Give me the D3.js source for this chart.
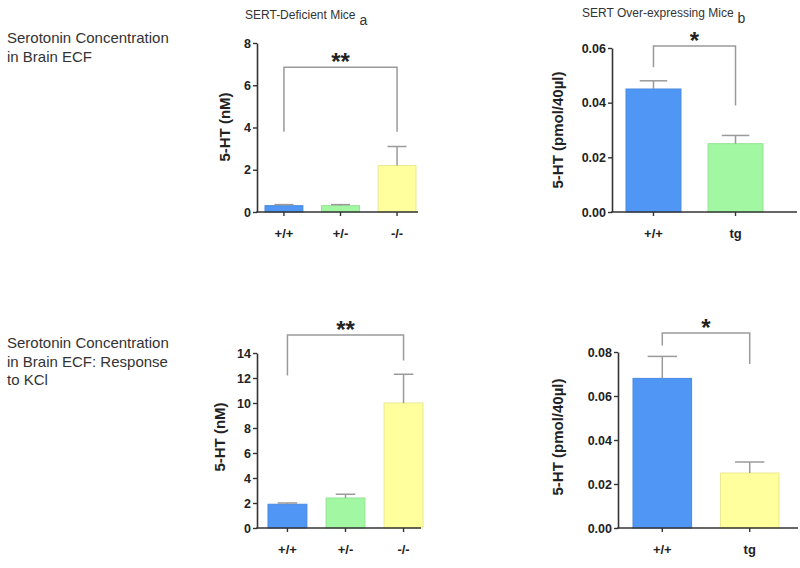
<!DOCTYPE html>
<html>
<head>
<meta charset="utf-8">
<script src="https://cdn.jsdelivr.net/npm/d3@7"></script>
<style>
  html, body { margin: 0; padding: 0; background: #fff; }
  svg { display: block; font-family: "Liberation Sans", Arial, sans-serif; }
</style>
</head>
<body>
<svg id="chart" width="800" height="568"></svg>
<script>
// ---------- DATA ----------
const categoriesA = ["+/+", "+/-", "-/-"];
const meansA = [0.3, 0.3, 2.2];
const semA = [0.05, 0.05, 0.9];
const ticksA = [0, 2, 4, 6, 8];

const categoriesB = ["+/+", "tg"];
const meansB = [0.045, 0.025];
const semB = [0.003, 0.003];
const ticksB = [0, 0.02, 0.04, 0.06];

const categoriesC = ["+/+", "+/-", "-/-"];
const meansC = [1.9, 2.4, 10.0];
const semC = [0.1, 0.3, 2.3];
const ticksC = [0, 2, 4, 6, 8, 10, 12, 14];

const categoriesD = ["+/+", "tg"];
const meansD = [0.068, 0.025];
const semD = [0.010, 0.005];
const ticksD = [0, 0.02, 0.04, 0.06, 0.08];

// significance brackets: [fromCategory, toCategory, top level, left leg end, right leg end, label]
const bracketA = ["+/+", "-/-", 6.85, 3.8, 3.8, "**"];
const bracketB = ["+/+", "tg", 0.0607, 0.053, 0.039, "*"];
const bracketC = ["+/+", "-/-", 15.45, 12.2, 13.4, "**"];
const bracketD = ["+/+", "tg", 0.0886, 0.083, 0.0745, "*"];

const colorsA = ["#4f96f5", "#a2f8a2", "#ffff9e"];
const colorsB = ["#4f96f5", "#a2f8a2"];
const colorsC = ["#4f96f5", "#a2f8a2", "#ffff9e"];
const colorsD = ["#4f96f5", "#ffff9e"];

const yLabelNM = "5-HT (nM)";
const yLabelPmol = "5-HT (pmol/40µl)";

// ---------- DRAW ----------
const svg = d3.select("#chart");
const axisColor = "#333";
const grey = "#9a9a9a";

function panel(cfg) {
  const g = svg.append("g");
  const x = d3.scaleBand().domain(cfg.cats).range(cfg.barRange).paddingInner(0.33).paddingOuter(0);
  const y = d3.scaleLinear().domain([0, cfg.ticks[cfg.ticks.length - 1]]).range(cfg.yRange);
  const y0 = y(0);

  // bars
  g.selectAll("rect.bar").data(cfg.cats).join("rect")
    .attr("x", d => x(d)).attr("width", x.bandwidth())
    .attr("y", (d, i) => y(cfg.means[i]))
    .attr("height", (d, i) => y0 - y(cfg.means[i]))
    .attr("fill", (d, i) => cfg.colors[i])
    .attr("stroke", (d, i) => d3.color(cfg.colors[i]).darker(0.25))
    .attr("stroke-width", 1);

  // error bars (upper only)
  const cap = x.bandwidth() * 0.5;
  cfg.cats.forEach((c, i) => {
    const cx = x(c) + x.bandwidth() / 2;
    const top = y(cfg.means[i] + cfg.sem[i]);
    g.append("line").attr("x1", cx).attr("x2", cx).attr("y1", y(cfg.means[i])).attr("y2", top)
      .attr("stroke", grey).attr("stroke-width", 1.5);
    g.append("line").attr("x1", cx - cap / 2).attr("x2", cx + cap / 2).attr("y1", top).attr("y2", top)
      .attr("stroke", grey).attr("stroke-width", 1.5);
  });

  // y axis
  const yAxis = d3.axisLeft(y).tickValues(cfg.ticks).tickSize(4).tickSizeOuter(0).tickPadding(2)
    .tickFormat(cfg.fmt);
  const ya = g.append("g").attr("transform", `translate(${cfg.axisX},0)`).call(yAxis);
  ya.select(".domain").attr("stroke", axisColor).attr("stroke-width", 1.6);
  ya.selectAll(".tick line").attr("stroke", axisColor).attr("stroke-width", 1.4);
  ya.selectAll(".tick text").attr("fill", "#222").attr("font-size", 12.5).attr("font-weight", "bold")
    .attr("font-family", "Liberation Sans, Arial, sans-serif");

  // x axis
  const xAxis = d3.axisBottom(x).tickSize(4).tickSizeOuter(0).tickPadding(13);
  const xa = g.append("g").attr("transform", `translate(0,${y0})`).call(xAxis);
  xa.select(".domain").remove();
  xa.selectAll(".tick line").attr("stroke", axisColor).attr("stroke-width", 1.4);
  xa.selectAll(".tick text").attr("fill", "#222").attr("font-size", 13).attr("font-weight", "bold")
    .attr("font-family", "Liberation Sans, Arial, sans-serif");
  g.append("line").attr("x1", cfg.axisX - 0.8).attr("x2", cfg.axisEnd).attr("y1", y0).attr("y2", y0)
    .attr("stroke", axisColor).attr("stroke-width", 1.6);

  // y label
  g.append("text").attr("transform", `translate(${cfg.yLabelX},${cfg.yLabelY}) rotate(-90)`)
    .attr("text-anchor", "middle").attr("dy", "0.35em")
    .attr("font-size", 15).attr("font-weight", "bold").attr("fill", "#222")
    .text(cfg.yLabel);

  // bracket
  const b = cfg.bracket;
  const bx1 = x(b[0]) + x.bandwidth() / 2;
  const bx2 = x(b[1]) + x.bandwidth() / 2;
  const path = d3.path();
  path.moveTo(bx1, y(b[3])); path.lineTo(bx1, y(b[2])); path.lineTo(bx2, y(b[2])); path.lineTo(bx2, y(b[4]));
  g.append("path").attr("d", path.toString()).attr("fill", "none").attr("stroke", grey).attr("stroke-width", 1.5);
  g.append("text").attr("x", (bx1 + bx2) / 2).attr("y", y(b[2]) + 3).attr("text-anchor", "middle")
    .attr("font-size", 24).attr("font-weight", "bold").attr("fill", "#222").text(b[5]);

  // title
  if (cfg.title) {
    const t = g.append("text").attr("x", cfg.titleX).attr("y", cfg.titleY)
      .attr("font-size", 12).attr("fill", "#333");
    t.append("tspan").text(cfg.title);
    t.append("tspan").attr("dx", 4).attr("dy", 6).attr("font-size", 14).text(cfg.sub);
  }
}

const fmt0 = d3.format("d");
const fmt2 = d3.format(".2f");

panel({ cats: categoriesA, means: meansA, sem: semA, ticks: ticksA, colors: colorsA, fmt: fmt0,
  barRange: [265, 416], yRange: [212, 43], axisX: 257, axisEnd: 418,
  yLabel: yLabelNM, yLabelX: 225, yLabelY: 127, bracket: bracketA,
  title: "SERT-Deficient Mice", sub: "a", titleX: 245, titleY: 19 });

panel({ cats: categoriesB, means: meansB, sem: semB, ticks: ticksB, colors: colorsB, fmt: fmt2,
  barRange: [626, 763], yRange: [212, 48], axisX: 612, axisEnd: 797,
  yLabel: yLabelPmol, yLabelX: 558, yLabelY: 130, bracket: bracketB,
  title: "SERT Over-expressing  Mice", sub: "b", titleX: 582, titleY: 17 });

panel({ cats: categoriesC, means: meansC, sem: semC, ticks: ticksC, colors: colorsC, fmt: fmt0,
  barRange: [268, 423], yRange: [528, 353], axisX: 257, axisEnd: 421,
  yLabel: yLabelNM, yLabelX: 220, yLabelY: 437, bracket: bracketC });

panel({ cats: categoriesD, means: meansD, sem: semD, ticks: ticksD, colors: colorsD, fmt: fmt2,
  barRange: [633, 779], yRange: [528, 352], axisX: 618, axisEnd: 798,
  yLabel: yLabelPmol, yLabelX: 558, yLabelY: 437, bracket: bracketD });

// left descriptive text
const leftTop = ["Serotonin Concentration", "in Brain ECF"];
const leftBottom = ["Serotonin Concentration", "in Brain ECF: Response", "to KCl"];
function leftText(lines, y0) {
  const t = svg.append("text").attr("x", 7).attr("y", y0).attr("font-size", 15).attr("fill", "#333")
    .attr("font-family", "Liberation Sans, Arial, sans-serif");
  lines.forEach((l, i) => t.append("tspan").attr("x", 7).attr("dy", i === 0 ? 0 : 18.5).text(l));
}
leftText(leftTop, 43);
leftText(leftBottom, 348);
</script>
</body>
</html>
